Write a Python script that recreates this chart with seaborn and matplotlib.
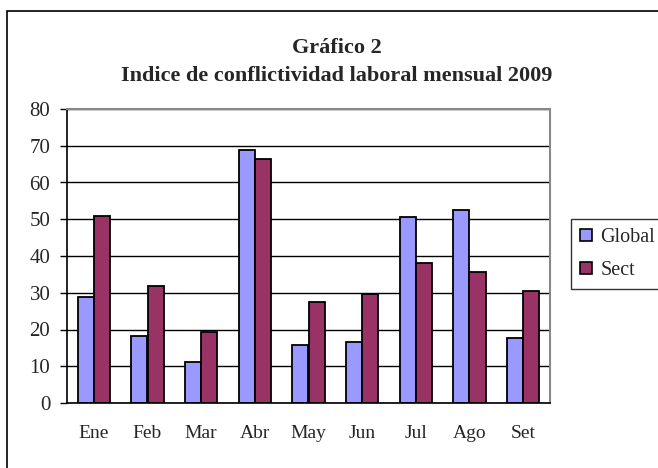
import matplotlib
matplotlib.use("Agg")
import numpy as np
import pandas as pd
import seaborn as sns
import matplotlib.pyplot as plt
from matplotlib.patches import Rectangle, Patch

# ── Data ──────────────────────────────────────────────────────────────────────
meses  = ["Ene", "Feb", "Mar", "Abr", "May", "Jun", "Jul", "Ago", "Set"]
global_vals = [28.9, 18.2, 11.1, 68.8, 15.7, 16.7, 50.5, 52.5, 17.8]
sect_vals   = [50.9, 31.9, 19.2, 66.3, 27.6, 29.6, 38.2, 35.6, 30.6]
series = ["Global", "Sect"]
colors = ["#9999FF", "#993366"]
yticks = [0, 10, 20, 30, 40, 50, 60, 70, 80]

df = pd.DataFrame({
    "mes": meses * 2,
    "valor": global_vals + sect_vals,
    "serie": [series[0]] * len(meses) + [series[1]] * len(meses),
})

# ── Plot ──────────────────────────────────────────────────────────────────────
sns.set_style("white")
plt.rcParams["font.family"] = ["Liberation Serif", "DejaVu Serif"]

fig = plt.figure(figsize=(6.58, 4.68), dpi=100)
fig.patch.set_facecolor("white")
# outer chart frame (only left/top visible in the crop)
fig.patches.append(Rectangle((7 / 658, -0.1), 1.2, 1 - 11 / 468 + 0.1,
                             transform=fig.transFigure, fill=False,
                             edgecolor="black", linewidth=1.2))

ax = fig.add_axes([67 / 658, 1 - 403 / 468, (550 - 67) / 658, (403 - 109) / 468])
sns.barplot(data=df, x="mes", y="valor", hue="serie", palette=colors,
            width=0.6, gap=0, edgecolor="black", linewidth=1.3,
            saturation=1, legend=False, ax=ax)

ax.set_ylim(0, 80)
ax.set_xlim(-0.5, len(meses) - 0.5)
ax.set_yticks(yticks)
ax.set_yticklabels([str(v) for v in yticks], fontsize=15)
ax.set_xticks(range(len(meses)))
ax.set_xticklabels(meses, fontsize=14)
ax.tick_params(axis="x", which="major", length=0, pad=16)
ax.set_xticks(np.arange(-0.5, len(meses)), minor=True)
ax.tick_params(axis="x", which="minor", length=5, width=1, color="black",
               direction="out")
ax.tick_params(axis="y", length=5, width=1, color="black", direction="out",
               left=True, pad=7)
ax.set_xlabel("")
ax.set_ylabel("")

ax.set_axisbelow(True)
ax.yaxis.grid(True, color="black", linewidth=1)
for spine in ["left", "bottom"]:
    ax.spines[spine].set_color("black")
    ax.spines[spine].set_linewidth(1.2)
for spine in ["top", "right"]:
    ax.spines[spine].set_color("#888888")
    ax.spines[spine].set_linewidth(1.5)

title_x = 337 / 658
fig.text(title_x, 1 - 48 / 468, "Gráfico 2",
         ha="center", va="center", fontsize=16, fontweight="bold")
fig.text(title_x, 1 - 76 / 468,
         "Indice de conflictividad laboral mensual 2009",
         ha="center", va="center", fontsize=16, fontweight="bold")

handles = [Patch(facecolor=c, edgecolor="black", linewidth=1.2) for c in colors]
leg = fig.legend(handles, series, loc="upper left",
                 bbox_to_anchor=(571 / 658, 1 - 219 / 468), fontsize=14.5,
                 frameon=True, fancybox=False, handlelength=0.6,
                 handleheight=0.6, handletextpad=0.4, borderpad=0.45,
                 labelspacing=0.7, borderaxespad=0)
leg.get_frame().set_edgecolor("black")
leg.get_frame().set_linewidth(1)

fig.savefig("out.png", dpi=100)
